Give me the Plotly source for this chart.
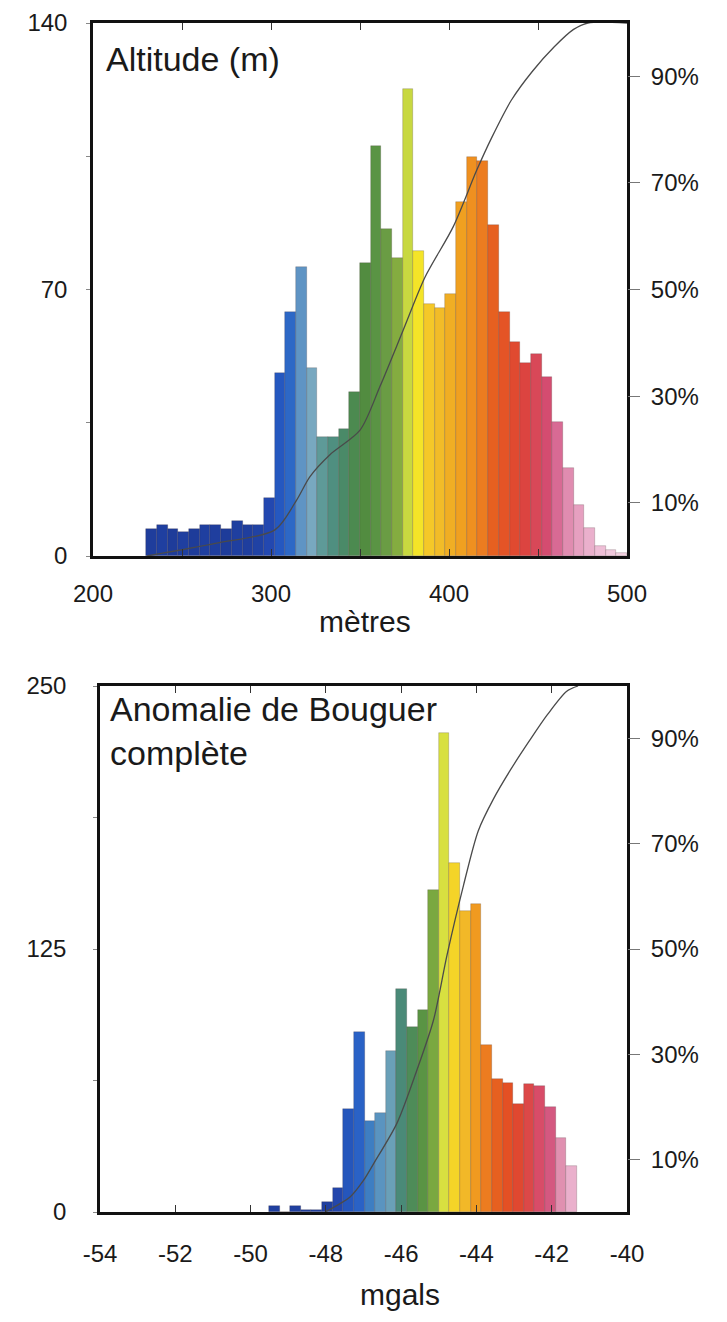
import plotly.graph_objects as go
import numpy as np

# page body has an 8px margin: keep the figure inside the viewport
PAGE_W, PAGE_H = 727, 1322
OFF = 8
W, H = PAGE_W - 2 * OFF, PAGE_H - 2 * OFF - 2
FONT = "Liberation Sans, Arial, sans-serif"

# ---------------- data: altitude (top) ----------------
alt_bin_start = 230.0
alt_bin_width = 6.0
alt_counts = [7.1, 8.2, 7.1, 6.3, 7.1, 8.2, 8.2, 7.1, 9.1, 8.2, 8.2, 15.2,
              48, 64, 76, 49.4, 31.3, 31.3, 33.3, 43.1, 77, 107.8, 86, 78.2,
              122.7, 80.2, 66.2, 65.1, 68.8, 93, 104.9, 103.7, 86.9, 64, 56.2,
              50.8, 53.1, 47, 35.2, 23.2, 13.4, 7.3, 2.5, 1.6, 0.8]
alt_cum_x = [230.3, 269.5, 302.2, 314.4, 321.9, 333.1, 350.0, 361.2, 374.3,
             386.5, 402.4, 415.6, 424.0, 435.0, 447.0, 459.0, 470.0, 478.0, 500]
alt_cum_pct = [0, 2.4, 4.9, 10.5, 14.9, 19.0, 23.6, 31.8, 42.4, 52.3, 61.8,
               72.4, 78.5, 85.5, 91.0, 95.5, 98.8, 100, 100]
alt_colors = ["#1f3d9c", "#1f3fa0", "#1e3c9a", "#1f3fa0", "#1e3c9a", "#1f3fa0",
              "#1f3e9e", "#1e3c9a", "#1f3fa0", "#1f3e9e", "#2042a4", "#2348b0",
              "#2558c0", "#2d68c6", "#5f94c4", "#78a8c0", "#5e9a98", "#4f8f80",
              "#4a8a68", "#4c8a50", "#528c40", "#5a9444", "#6a9c44", "#84ac40",
              "#c8d840", "#f4e428", "#f5c828", "#f2bc28", "#f0ae24", "#f0a020",
              "#ef9020", "#ec7c20", "#e66020", "#e45426", "#e04a30", "#dc4440",
              "#d84858", "#d44c70", "#d86a94", "#e08cb0", "#e6a0c0", "#eab0cc",
              "#eebed6", "#f0c8dc", "#f2d0e0"]
alt_yticks = [0, 35, 70, 105, 140]
alt_ytext = ["0", "", "70", "", "140"]
alt_xticks = [200, 250, 300, 350, 400, 450, 500]
alt_xtext = ["200", "", "300", "", "400", "", "500"]

# ---------------- data: Bouguer anomaly (bottom) ----------------
bou_bin_start = -49.51
bou_bin_width = 0.282
bou_counts = [2.9, 0.0, 2.9, 1.0, 1.0, 4.9, 11.6, 49, 85.7, 43.4, 47.2, 76.7,
              105.8, 88.1, 96, 153, 227.5, 166, 143.2, 146.4, 79.4, 63, 61.5,
              51.3, 60.8, 59.9, 49.8, 35, 21.9]
bou_cum_x = [-48.02, -47.35, -47.0, -46.73, -46.11, -45.58, -45.14, -44.78,
             -44.34, -43.95, -43.55, -43.1, -42.6, -42.12, -41.6, -41.3]
bou_cum_pct = [0, 2.9, 6.0, 9.2, 16.9, 27, 36.5, 48.9, 62.2, 72.5, 78.5, 84,
               89.5, 94.5, 99.0, 100]
bou_colors = ["#2040a0", "#2040a0", "#2040a0", "#2040a0", "#2040a0",
              "#1f3fa0", "#2346ac", "#2556bc", "#2a62c6", "#3e7ec2", "#5a94c0",
              "#6aa0b8", "#4a8a78", "#4e8c58", "#5a9444", "#7aa840", "#d8e040",
              "#f4d428", "#f2b828", "#f09a20", "#ec7c20", "#e66020", "#e45024",
              "#e04830", "#dc4848", "#d84c68", "#d45880", "#e090b0", "#eab0cc"]
bou_yticks = [0, 62.5, 125, 187.5, 250]
bou_ytext = ["0", "", "125", "", "250"]
bou_xticks = [-54, -52, -50, -48, -46, -44, -42, -40]
bou_xtext = ["-54", "-52", "-50", "-48", "-46", "-44", "-42", "-40"]

pct_ticks = [10, 30, 50, 70, 90]
pct_text = ["10%", "30%", "50%", "70%", "90%"]

# ---------------- layout helpers (page pixels -> paper) ----------------
def px_x(p):
    return (p - OFF) / W

def px_y(p):
    return 1 - (p - OFF) / H

TOP = dict(x0=93, x1=627, y0=23, y1=556)
BOT = dict(x0=100, x1=627, y0=686, y1=1212)

fig = go.Figure()

alt_x = alt_bin_start + alt_bin_width * (np.arange(len(alt_counts)) + 0.5)
bou_x = bou_bin_start + bou_bin_width * (np.arange(len(bou_counts)) + 0.5)

fig.add_trace(go.Bar(x=alt_x, y=alt_counts, width=alt_bin_width,
                     marker=dict(color=alt_colors,
                                 line=dict(width=0.6, color="rgba(60,40,40,0.35)")),
                     xaxis="x", yaxis="y", showlegend=False))
fig.add_trace(go.Scatter(x=alt_cum_x, y=alt_cum_pct, mode="lines",
                         line=dict(color="#4a4a4a", width=1.3, shape="spline",
                                   smoothing=0.8),
                         xaxis="x", yaxis="y2", showlegend=False))
fig.add_trace(go.Bar(x=bou_x, y=bou_counts, width=bou_bin_width,
                     marker=dict(color=bou_colors,
                                 line=dict(width=0.6, color="rgba(60,40,40,0.35)")),
                     xaxis="x2", yaxis="y3", showlegend=False))
fig.add_trace(go.Scatter(x=bou_cum_x, y=bou_cum_pct, mode="lines",
                         line=dict(color="#4a4a4a", width=1.3, shape="spline",
                                   smoothing=0.8),
                         xaxis="x2", yaxis="y4", showlegend=False))

tickfont = dict(family=FONT, size=24, color="#1a1a1a")
axis_line = dict(showline=True, linecolor="#111111", linewidth=2.5,
                 showgrid=False, zeroline=False, automargin=False)

fig.update_layout(
    width=W, height=H,
    margin=dict(l=0, r=0, t=0, b=0),
    paper_bgcolor="white", plot_bgcolor="white",
    bargap=0,
    xaxis=dict(domain=[px_x(TOP["x0"]), px_x(TOP["x1"])], range=[200, 500],
               anchor="y", tickvals=alt_xticks, ticktext=alt_xtext,
               ticks="inside", ticklen=7, tickwidth=1.2, tickcolor="#333",
               mirror="ticks", tickfont=tickfont, ticklabelstandoff=14,
               **axis_line),
    yaxis=dict(domain=[px_y(TOP["y1"]), px_y(TOP["y0"])], range=[0, 140],
               anchor="x", tickvals=alt_yticks, ticktext=alt_ytext,
               ticks="outside", ticklen=4, tickwidth=1, tickcolor="#888",
               mirror=True, tickfont=tickfont, ticklabelstandoff=14,
               **axis_line),
    yaxis2=dict(overlaying="y", side="right", anchor="x", range=[0, 100],
                tickvals=pct_ticks, ticktext=pct_text, ticks="outside",
                ticklen=12, tickwidth=1, tickcolor="#777", tickfont=tickfont,
                showline=False, showgrid=False, zeroline=False,
                ticklabelstandoff=6, automargin=False),
    xaxis2=dict(domain=[px_x(BOT["x0"]), px_x(BOT["x1"])], range=[-54, -40],
                anchor="y3", tickvals=bou_xticks, ticktext=bou_xtext,
                ticks="inside", ticklen=7, tickwidth=1.2, tickcolor="#333",
                mirror="ticks", tickfont=tickfont, ticklabelstandoff=18,
                **axis_line),
    yaxis3=dict(domain=[px_y(BOT["y1"]), px_y(BOT["y0"])], range=[0, 250],
                anchor="x2", tickvals=bou_yticks, ticktext=bou_ytext,
                ticks="outside", ticklen=4, tickwidth=1, tickcolor="#888",
                mirror=True, tickfont=tickfont, ticklabelstandoff=22,
                **axis_line),
    yaxis4=dict(overlaying="y3", side="right", anchor="x2", range=[0, 100],
                tickvals=pct_ticks, ticktext=pct_text, ticks="outside",
                ticklen=12, tickwidth=1, tickcolor="#777", tickfont=tickfont,
                showline=False, showgrid=False, zeroline=False,
                ticklabelstandoff=6, automargin=False),
)

label_font = dict(family=FONT, size=34, color="#1a1a1a")
fig.add_annotation(text="Altitude (m)", xref="paper", yref="paper",
                   x=px_x(104), y=px_y(38), xanchor="left", yanchor="top",
                   showarrow=False, font=label_font, align="left")
fig.add_annotation(text="Anomalie de Bouguer<br>complète", xref="paper",
                   yref="paper", x=px_x(108), y=px_y(688), xanchor="left",
                   yanchor="top", showarrow=False, font=label_font, align="left")
fig.add_annotation(text="mètres", xref="paper", yref="paper",
                   x=px_x(365), y=px_y(621), xanchor="center",
                   yanchor="middle", showarrow=False,
                   font=dict(family=FONT, size=30, color="#1a1a1a"))
fig.add_annotation(text="mgals", xref="paper", yref="paper",
                   x=px_x(400), y=px_y(1294), xanchor="center",
                   yanchor="middle", showarrow=False,
                   font=dict(family=FONT, size=30, color="#1a1a1a"))

fig.write_html("out.html")
